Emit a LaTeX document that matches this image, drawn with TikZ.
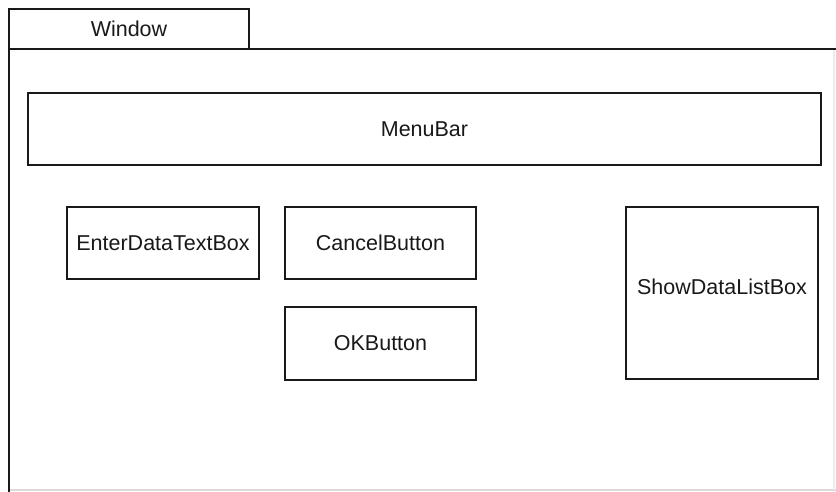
\documentclass[tikz,border=0pt]{standalone}
\usepackage{fontspec}
\setmainfont{Liberation Sans}
\begin{document}
\begin{tikzpicture}[x=1pt,y=-1pt,
  frame/.style={line width=2.8pt,draw=black!90},
  widget/.style={frame,rectangle,inner sep=0pt,text=black!90,
    font=\fontsize{21.5}{25}\selectfont},
  tablabel/.style={text=black!90,font=\fontsize{21.5}{25}\selectfont}]
\useasboundingbox (0,0) rectangle (836,491);
\fill[white] (0,0) rectangle (836,491);

% window frame with its title tab
\draw[black!15,line width=1.6pt] (9,490) -- (836,490);
\draw[black!8,line width=1.2pt] (834,49) -- (834,490);
\draw[frame] (9,492) -- (9,9) -- (249,9) -- (249,49);
\draw[frame] (9,49) -- (840,49);
\node[tablabel] (tab) at (129,29) {Window};

% child controls
\node[widget,minimum width=793pt,minimum height=72pt] (menubar) at (424.5,129) {MenuBar};
\node[widget,minimum width=192pt,minimum height=72pt] (enter) at (163,243) {EnterDataTextBox};
\node[widget,minimum width=191pt,minimum height=72pt] (cancel) at (380.5,243) {CancelButton};
\node[widget,minimum width=191pt,minimum height=73pt] (ok) at (380.5,343.5) {OKButton};
\node[widget,minimum width=192pt,minimum height=172pt,text depth=12pt] (showlist) at (722,293) {ShowDataListBox};
\end{tikzpicture}
\end{document}
